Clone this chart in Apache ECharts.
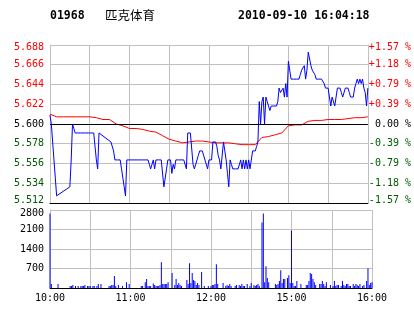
<!DOCTYPE html>
<html><head><meta charset="utf-8">
<script src="https://cdn.jsdelivr.net/npm/echarts@6/dist/echarts.min.js"></script>
<style>html,body{margin:0;padding:0;background:#fff}#c{width:414px;height:314px}</style>
</head><body><div id="c"></div>
<script>
const stockCode = '01968';
const stockName = '匹克体育';
const stamp = '2010-09-10 16:04:18';
const prevClose = 5.600;
const priceMin = 5.512, priceMax = 5.688, priceStep = 0.022;
const volMin = 0, volMax = 2800, volStep = 700;
const tickTimes = ['10:00', '11:00', '12:00', '15:00', '16:00'];

// per-minute last price (null = no trade, line joins neighbours)
const price = [
  5.61, 5.60, 5.58, 5.56, 5.54, 5.52, 5.52, null, null, null,
  null, null, null, null, null, 5.53, 5.56, 5.60, 5.595, 5.59,
  5.59, 5.59, 5.59, 5.59, 5.59, 5.59, 5.59, 5.59, 5.59, 5.59,
  5.59, 5.59, 5.59, 5.59, 5.59, 5.56, 5.55, 5.59, null, null,
  null, null, null, null, null, null, 5.58, 5.58, 5.57, 5.56,
  5.56, 5.56, 5.56, 5.56, 5.55, 5.54, 5.53, 5.52, 5.56, 5.56,
  5.56, 5.56, 5.56, 5.56, 5.56, 5.56, 5.56, 5.56, 5.56, 5.56,
  5.56, 5.56, 5.56, 5.56, 5.56, 5.555, 5.55, 5.55, 5.56, 5.55,
  5.56, 5.56, 5.56, 5.56, 5.56, 5.56, 5.53, 5.53, 5.55, 5.56,
  5.56, 5.56, 5.545, 5.555, 5.55, 5.56, 5.56, 5.56, 5.56, 5.56,
  5.56, 5.56, 5.56, 5.55, 5.59, 5.59, 5.59, 5.59, 5.555, 5.55,
  5.55, 5.56, 5.565, 5.57, 5.57, 5.57, null, null, null, 5.55,
  5.56, 5.56, 5.56, 5.58, 5.58, 5.58, 5.575, 5.565, 5.56, 5.55,
  5.55, 5.58, 5.57, 5.56, 5.545, 5.53, 5.56, 5.555, 5.55, 5.55,
  5.55, 5.55, 5.55, 5.55, 5.56, 5.55, 5.56, 5.55, 5.56, 5.55,
  5.56, 5.55, 5.55, 5.57, 5.57, 5.57, 5.575, 5.58, 5.625, 5.60,
  5.625, 5.63, 5.60, 5.63, 5.625, 5.62, 5.615, 5.62, 5.62, 5.62,
  5.62, 5.62, 5.625, 5.64, 5.635, 5.635, 5.64, 5.63, 5.645, 5.63,
  5.67, 5.67, 5.65, 5.65, 5.65, 5.65, 5.65, 5.65, 5.65, 5.655,
  5.66, 5.66, 5.665, 5.65, 5.66, 5.68, 5.68, 5.665, 5.66, 5.66,
  5.655, 5.65, 5.65, 5.65, 5.65, 5.65, 5.65, 5.645, 5.64, 5.64,
  5.64, 5.63, 5.62, 5.63, 5.63, 5.62, 5.63, 5.64, 5.64, 5.64,
  5.635, 5.63, 5.63, 5.64, 5.64, 5.64, 5.635, 5.63, 5.63, 5.63,
  5.64, 5.645, 5.65, 5.645, 5.65, 5.645, 5.65, 5.64, 5.635, 5.62,
  5.64
];

// average price, read every 5 minutes
const avgEvery = 5;
const avgPrice = [
  5.611, 5.608, 5.608, 5.608, 5.608, 5.608, 5.608, 5.607, 5.605, 5.605,
  5.600, 5.598, 5.595, 5.595, 5.594, 5.592, 5.591, 5.587, 5.583, 5.581,
  5.579, 5.580, 5.581, 5.581, 5.580, 5.579, 5.579, 5.579, 5.578, 5.577,
  5.577, 5.577, 5.585, 5.586, 5.588, 5.590, 5.598, 5.599, 5.599, 5.603,
  5.604, 5.604, 5.605, 5.605, 5.605, 5.606, 5.607, 5.607, 5.608
];

// per-minute volume
const volume = [
  2670, 140, 0, 0, 0, 0, 140, 0, 0, 0,
  0, 0, 0, 0, 0, 70, 70, 110, 0, 70,
  0, 70, 0, 70, 70, 70, 110, 0, 70, 70,
  70, 0, 70, 70, 0, 70, 140, 0, 140, 0,
  0, 0, 0, 0, 70, 70, 110, 110, 430, 70,
  0, 110, 0, 0, 70, 0, 0, 210, 0, 140,
  0, 0, 0, 0, 0, 0, 0, 0, 70, 70,
  0, 210, 320, 70, 70, 70, 0, 165, 110, 70,
  70, 70, 110, 925, 140, 140, 140, 140, 210, 0,
  0, 534, 0, 110, 320, 110, 180, 110, 70, 0,
  0, 0, 285, 140, 890, 180, 534, 285, 250, 110,
  180, 110, 0, 570, 0, 70, 0, 0, 70, 0,
  70, 110, 110, 140, 855, 140, 0, 0, 0, 180,
  0, 70, 110, 70, 140, 70, 0, 0, 70, 110,
  0, 110, 70, 140, 70, 70, 0, 140, 0, 70,
  180, 0, 110, 70, 110, 140, 70, 0, 2350, 2670,
  210, 780, 355, 210, 0, 0, 0, 0, 140, 110,
  140, 250, 640, 180, 320, 320, 0, 355, 460, 180,
  2060, 180, 70, 70, 250, 0, 0, 140, 0, 0,
  0, 110, 110, 250, 534, 500, 320, 210, 110, 0,
  0, 140, 140, 250, 140, 70, 210, 0, 0, 110,
  0, 70, 250, 70, 110, 110, 0, 70, 250, 110,
  70, 140, 140, 70, 70, 0, 140, 70, 140, 110,
  70, 140, 0, 70, 110, 0, 250, 710, 110, 180,
  210
];

// minute categories: 10:00-12:30 and 14:31-16:00
const times = [];
function pad(n) { return (n < 10 ? '0' : '') + n; }
function session(startMin, count) {
  for (let k = 0; k < count; k++) {
    const t = startMin + k;
    times.push(pad(Math.floor(t / 60)) + ':' + pad(t % 60));
  }
}
session(600, 151);
session(871, 90);

const avgData = avgPrice.map((v, k) => [k * avgEvery, v]);

const gridC = '#c0c0c0';
const upC = '#ff0000', downC = '#005a00', flatC = '#000000';
const mono = 'DejaVu Sans Mono';
function tone(v) {
  v = Number(v);
  if (v > prevClose + 1e-6) return upC;
  if (v < prevClose - 1e-6) return downC;
  return flatC;
}
function pct(v) {
  const p = (Number(v) - prevClose) / prevClose * 100;
  if (Math.abs(p) < 0.005) return ' 0.00 %';
  return (p > 0 ? '+' : '-') + Math.abs(p).toFixed(2) + ' %';
}
// nudge the end labels inward like the original
function edge(v, text) {
  v = Number(v);
  if (Math.abs(v - priceMax) < 1e-6) return '{top|' + text + '}';
  if (Math.abs(v - priceMin) < 1e-6) return '{bot|' + text + '}';
  return text;
}
const edgeRich = {
  top: { padding: [5, 0, 0, 0], color: upC, fontFamily: mono, fontSize: 10 },
  bot: { padding: [0, 0, 6, 0], color: downC, fontFamily: mono, fontSize: 10 }
};

const chart = echarts.init(document.getElementById('c'), null, { renderer: 'canvas' });
chart.setOption({
  animation: false,
  backgroundColor: '#fff',
  graphic: [
    { type: 'text', left: 50, top: 10, style: { text: stockCode, font: 'bold 11.5px "DejaVu Sans Mono"', fill: '#000' } },
    { type: 'text', left: 105, top: 9, style: { text: stockName, font: '12.5px "Noto Sans CJK SC"', fill: '#000' } },
    { type: 'text', left: 238, top: 10, style: { text: stamp, font: 'bold 11.5px "DejaVu Sans Mono"', fill: '#000' } }
  ],
  grid: [
    { left: 50, right: 42, top: 45, height: 158 },
    { left: 50, right: 42, top: 210, height: 78 }
  ],
  xAxis: [
    {
      type: 'category', gridIndex: 0, data: times, boundaryGap: false,
      axisLine: { show: true, lineStyle: { color: '#000', width: 1 } },
      axisTick: { show: false }, axisLabel: { show: false },
      splitLine: { show: true, interval: (i) => i % 30 === 0, lineStyle: { color: gridC, width: 1 } }
    },
    {
      type: 'category', gridIndex: 1, data: times, boundaryGap: false,
      axisLine: { show: true, lineStyle: { color: '#000', width: 1 } },
      axisTick: { show: false },
      axisLabel: { interval: (i, v) => tickTimes.indexOf(v) >= 0, color: '#000', fontFamily: mono, fontSize: 10, margin: 5 },
      splitLine: { show: true, interval: (i) => i % 30 === 0, lineStyle: { color: gridC, width: 1 } }
    }
  ],
  yAxis: [
    {
      type: 'value', gridIndex: 0, min: priceMin, max: priceMax, interval: priceStep,
      axisLine: { show: true, lineStyle: { color: gridC } }, axisTick: { show: false },
      splitLine: { show: true, lineStyle: { color: gridC, width: 1 } },
      axisLabel: { formatter: (v) => edge(v, Number(v).toFixed(3)), color: tone, fontFamily: mono, fontSize: 10, margin: 6, rich: edgeRich }
    },
    {
      type: 'value', gridIndex: 0, position: 'right', min: priceMin, max: priceMax, interval: priceStep,
      axisLine: { show: true, lineStyle: { color: gridC } }, axisTick: { show: false },
      splitLine: { show: false },
      axisLabel: { formatter: (v) => edge(v, pct(v)), color: tone, fontFamily: mono, fontSize: 10, margin: 1, rich: edgeRich }
    },
    {
      type: 'value', gridIndex: 1, min: volMin, max: volMax, interval: volStep,
      axisLine: { show: true, lineStyle: { color: gridC } }, axisTick: { show: false },
      splitLine: { show: true, lineStyle: { color: gridC, width: 1 } },
      axisLabel: {
        showMinLabel: false,
        formatter: (v) => {
          const s = String(Math.round(Number(v)));
          return Number(v) === volMax ? '{top|' + s + '}' : s;
        },
        rich: { top: { padding: [6, 0, 0, 0], color: '#000', fontFamily: mono, fontSize: 10 } },
        color: '#000', fontFamily: mono, fontSize: 10, margin: 6
      }
    }
  ],
  series: [
    {
      type: 'line', xAxisIndex: 0, yAxisIndex: 0, data: avgData, symbol: 'none',
      lineStyle: { color: '#ff0000', width: 1 }, z: 2,
      markLine: {
        silent: true, symbol: 'none', label: { show: false },
        lineStyle: { color: '#000', width: 1, type: 'solid' },
        emphasis: { disabled: true },
        data: [{ yAxis: prevClose }]
      }
    },
    {
      type: 'line', xAxisIndex: 0, yAxisIndex: 0, data: price, symbol: 'none', connectNulls: true,
      lineStyle: { color: '#0000ff', width: 1 }, z: 3
    },
    {
      type: 'bar', xAxisIndex: 1, yAxisIndex: 2, data: volume, barWidth: 1,
      itemStyle: { color: '#0000ff' }
    }
  ]
});
</script>
</body></html>
